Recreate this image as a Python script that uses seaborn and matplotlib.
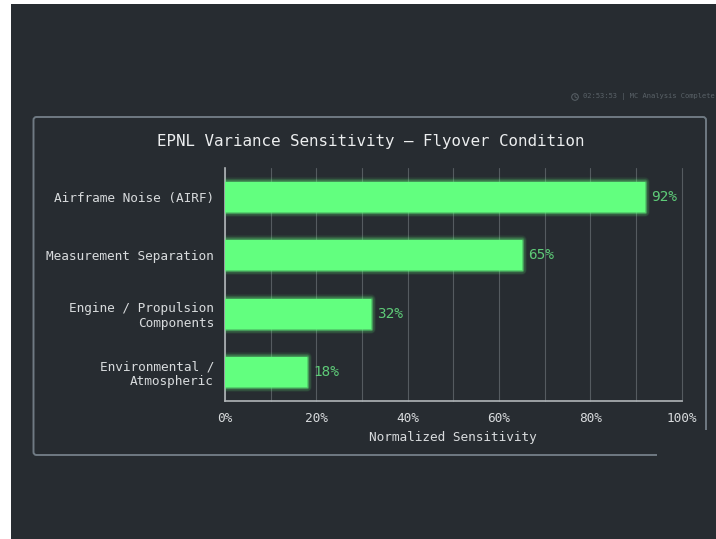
import matplotlib
matplotlib.use("Agg")
import matplotlib.pyplot as plt
import matplotlib.patheffects as pe
from matplotlib.patches import FancyBboxPatch, Rectangle, Circle
from matplotlib.lines import Line2D
from matplotlib.ticker import MultipleLocator, FuncFormatter
from matplotlib.transforms import IdentityTransform
import pandas as pd
import seaborn as sns

# Sensitivity of EPNL variance to each contributor, flyover condition
contributors = [
    "Airframe Noise (AIRF)",
    "Measurement Separation",
    "Engine / Propulsion\nComponents",
    "Environmental /\nAtmospheric",
]
sensitivity = [92, 65, 32, 18]

W, H = 716, 539
BG = "#272c31"
BAR = "#62ff7f"
VALUE = "#5ecb78"
TEXT = "#d8dbdd"
GRID = "#555b60"
SPINE = "#b0b5b8"
FRAME = "#6f7a83"
MONO = "DejaVu Sans Mono"


def fx(px):
    return px / W


def fy(py):
    return 1 - py / H


sns.set_theme(style="dark", font=MONO)
fig = plt.figure(figsize=(W / 100, H / 100), dpi=100, facecolor="white")

# Dark slide background, leaving a thin white strip along the top and left
fig.add_artist(Rectangle((fx(11), 0), fx(W - 11), fy(4), transform=fig.transFigure,
                         facecolor=BG, edgecolor="none", zorder=-5))

# Rounded panel around the chart, drawn in pixel coordinates
panel = FancyBboxPatch((33.5, H - 455), 672.5, 338,
                       boxstyle="round,pad=0,rounding_size=3",
                       transform=IdentityTransform(),
                       facecolor="none", edgecolor=FRAME, linewidth=1.4, zorder=-4)
fig.add_artist(panel)
# The lower right corner of the panel is hidden by a plain patch
fig.add_artist(Rectangle((fx(657), 0), fx(W - 657), fy(430), transform=fig.transFigure,
                         facecolor=BG, edgecolor="none", zorder=-3))

ax = fig.add_axes([fx(225), fy(401), fx(456.5), fy(168) - fy(401)])
ax.set_facecolor("none")

data = pd.DataFrame({"contributor": contributors, "sensitivity": sensitivity})
sns.barplot(data=data, x="sensitivity", y="contributor", color=BAR, saturation=1,
            width=0.515, ax=ax, zorder=3)

# Soft neon halo around each bar
glow = [pe.Stroke(linewidth=w, foreground=BAR, alpha=a, joinstyle="round")
        for w, a in ((7, 0.05), (6, 0.06), (5, 0.08), (4, 0.10), (3, 0.14), (2, 0.22), (1, 0.40))]
glow.append(pe.Normal())
for bar in ax.patches:
    bar.set_edgecolor("none")
    bar.set_path_effects(glow)

ax.bar_label(ax.containers[0], fmt="%g%%", padding=4.6, color=VALUE,
             fontsize=10.4, family=MONO)

ax.set_xlim(0, 100)
ax.set_ylim(3.5, -0.5)
ax.xaxis.set_major_locator(MultipleLocator(20))
ax.xaxis.set_minor_locator(MultipleLocator(10))
ax.xaxis.set_major_formatter(FuncFormatter(lambda v, _: f"{v:.0f}%"))
ax.grid(True, axis="x", which="both", color=GRID, linewidth=0.8, zorder=0, clip_on=False)
ax.grid(False, axis="y")
ax.set_axisbelow(True)
ax.tick_params(axis="x", which="both", length=0, pad=8, colors=TEXT, labelsize=9.2)
ax.tick_params(axis="y", length=0, pad=8, colors=TEXT, labelsize=9.2)
ax.set_ylabel("")
ax.set_xlabel("")
for side in ("top", "right"):
    ax.spines[side].set_visible(False)
for side in ("left", "bottom"):
    ax.spines[side].set_color(SPINE)
    ax.spines[side].set_linewidth(1.2)

fig.text(fx(453), fy(437), "Normalized Sensitivity", ha="center", va="center",
         color=TEXT, fontsize=9.2, family=MONO)
fig.text(fx(371), fy(141.5), "EPNL Variance Sensitivity — Flyover Condition",
         ha="center", va="center", color="#eceeef", fontsize=11.4, family=MONO)

# Status line with a small clock glyph
STATUS = "#5a6268"
fig.text(fx(583), fy(97), "02:53:53 | MC Analysis Complete", ha="left", va="center",
         color=STATUS, fontsize=5.1, family=MONO)
cx, cy = 575, 97
fig.add_artist(Circle((cx, H - cy), 3.3, facecolor="none", edgecolor=STATUS, linewidth=0.7,
                      transform=IdentityTransform()))
fig.add_artist(Line2D([fx(cx), fx(cx), fx(cx + 2)], [fy(cy - 2), fy(cy), fy(cy + 1)],
                      color=STATUS, linewidth=0.6, transform=fig.transFigure))

fig.savefig("out.png", dpi=100, facecolor="white")
